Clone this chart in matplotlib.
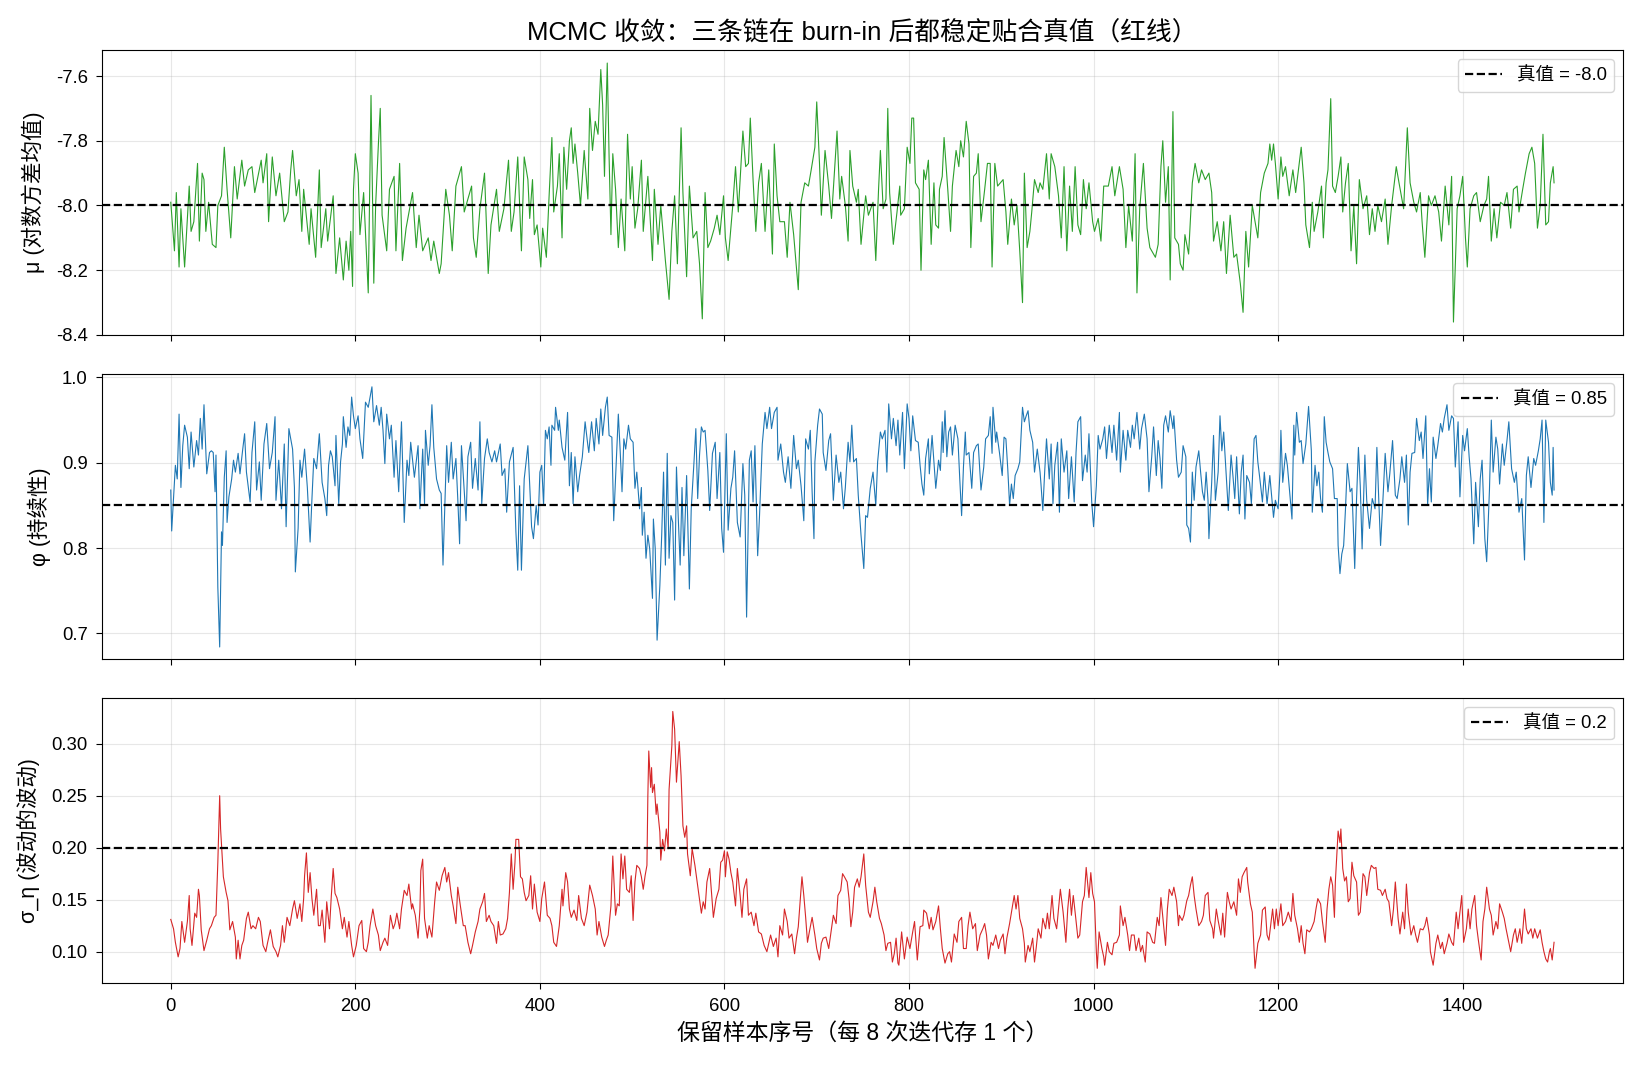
"""
MCMC 轨迹图：三个参数的保留样本与真值对比
"""

import matplotlib
matplotlib.use('Agg')
import matplotlib.pyplot as plt

plt.rcParams['font.family'] = ['Liberation Sans', 'Noto Sans CJK SC']
plt.rcParams['axes.unicode_minus'] = False

# ============================================================================
# DATOS (índice de muestra, valor)
# ============================================================================

mu_trace = [
    (0, -7.99), (4, -8.14), (6, -7.96), (9, -8.19), (11, -8.01), (15, -8.19), (20, -7.94), (22, -8.08),
    (25, -8.05), (29, -7.87), (31, -8.11), (34, -7.90), (36, -7.92), (38, -8.08), (41, -7.99), (45, -8.12),
    (49, -8.13), (51, -8.00), (55, -7.97), (58, -7.82), (61, -7.95), (65, -8.10), (69, -7.88), (72, -7.98),
    (77, -7.86), (80, -7.94), (84, -7.89), (88, -7.88), (91, -7.96), (98, -7.86), (100, -7.93), (104, -7.84),
    (106, -8.05), (110, -7.85), (114, -7.97), (118, -7.90), (123, -8.05), (127, -8.02), (130, -7.89), (132, -7.83),
    (136, -7.97), (139, -7.92), (142, -8.08), (144, -7.95), (150, -8.12), (152, -8.01), (157, -8.16), (161, -7.89),
    (163, -8.13), (168, -8.01), (170, -8.11), (176, -7.97), (179, -8.21), (183, -8.10), (187, -8.23), (190, -8.11),
    (193, -8.20), (195, -8.08), (197, -8.25), (198, -7.95), (200, -7.84), (203, -7.90), (205, -8.09), (209, -7.96),
    (214, -8.27), (217, -7.66), (220, -8.24), (222, -8.00), (225, -7.81), (227, -7.70), (229, -8.03), (234, -8.14),
    (237, -7.95), (242, -7.91), (244, -8.14), (248, -7.87), (251, -8.17), (255, -8.07), (262, -7.96), (266, -8.13),
    (269, -8.03), (273, -8.14), (279, -8.10), (282, -8.17), (285, -8.11), (291, -8.21), (293, -8.18), (298, -7.95),
    (302, -8.03), (305, -8.14), (309, -7.94), (315, -7.88), (318, -8.02), (326, -7.94), (328, -8.10), (331, -8.16),
    (335, -8.01), (340, -7.90), (344, -8.21), (347, -8.06), (353, -7.95), (356, -8.08), (361, -8.01), (366, -7.86),
    (369, -8.08), (372, -8.02), (376, -7.85), (380, -8.14), (383, -7.85), (387, -7.92),
    (389, -8.04), (392, -7.92), (394, -8.09), (397, -8.06), (401, -8.19), (403, -8.07), (407, -8.16), (410, -7.97),
    (413, -7.79), (415, -8.02), (419, -7.94), (421, -7.84), (424, -8.10), (426, -7.82), (429, -7.95), (432, -7.80),
    (434, -7.76), (436, -7.87), (438, -7.81), (441, -7.90), (444, -8.00), (448, -7.83), (452, -7.98), (454, -7.70),
    (457, -7.83), (460, -7.74), (463, -7.78), (466, -7.58), (468, -7.69), (470, -7.91), (473, -7.56), (475, -7.85),
    (477, -8.09), (479, -7.84), (482, -7.95), (485, -8.13), (488, -7.98), (492, -8.14), (495, -7.78), (498, -7.98),
    (500, -7.88), (503, -8.07), (506, -8.01), (510, -7.86), (512, -8.08), (517, -7.91), (522, -8.17), (524, -7.95),
    (528, -8.12), (531, -8.00), (536, -8.17), (540, -8.29), (543, -8.08), (546, -7.97), (549, -8.18), (553, -7.76),
    (555, -7.96), (559, -8.22), (562, -7.94), (566, -8.10), (570, -8.08), (573, -8.18), (576, -8.35), (579, -7.96),
    (582, -8.13), (585, -8.11), (589, -8.07), (592, -8.03), (595, -8.09), (599, -7.97), (601, -8.10), (604, -8.17),
    (609, -8.00), (612, -7.88), (615, -8.02), (620, -7.77), (623, -7.88), (626, -7.87), (628, -7.73), (631, -7.92),
    (634, -8.08), (637, -7.93), (640, -7.87), (644, -8.08), (648, -7.89), (652, -8.15), (654, -7.81), (657, -7.97),
    (660, -8.05), (665, -8.05), (668, -8.16), (671, -7.99), (675, -8.09), (680, -8.26), (683, -7.99), (687, -7.93),
    (691, -7.94), (694, -7.89), (698, -7.82), (700, -7.68), (703, -7.87), (705, -8.03), (709, -7.83), (713, -7.94),
    (716, -8.04), (722, -7.77), (725, -7.98), (727, -7.91), (731, -8.00), (734, -8.11), (736, -7.83), (739, -7.94),
    (743, -7.99), (745, -7.95), (748, -8.12), (753, -7.97), (756, -8.03), (761, -7.99), (764, -8.17), (767, -7.95),
    (769, -7.83), (772, -8.01), (775, -7.98), (777, -7.70), (779, -7.96), (783, -8.12), (787, -8.02), (790, -7.94),
    (791, -8.03), (795, -8.01), (798, -7.82), (801, -7.87), (803, -7.73), (805, -7.73), (807, -7.93), (811, -7.95),
    (813, -8.20), (816, -7.89), (818, -7.92), (821, -7.86), (824, -8.12), (827, -7.93), (829, -8.06), (832, -8.07),
    (833, -7.95), (836, -7.91), (838, -7.79), (842, -7.95), (845, -8.08), (847, -7.94), (851, -7.83), (854, -7.88),
    (856, -7.80), (859, -7.85), (862, -7.74), (865, -7.81), (867, -8.13), (870, -7.91), (873, -7.90), (875, -7.84),
    (878, -8.05), (882, -7.95), (885, -7.87), (888, -7.87), (890, -8.19), (893, -7.87), (896, -7.94), (902, -7.92),
    (905, -8.02), (907, -8.12), (911, -7.98), (914, -8.06), (917, -8.00), (920, -8.14), (923, -8.30), (925, -7.90),
    (928, -8.13), (931, -8.08), (933, -8.02), (936, -7.92), (940, -7.96), (942, -7.93), (945, -7.95), (949, -7.84),
    (952, -7.98), (954, -7.84), (958, -7.88), (962, -7.97), (965, -8.10), (968, -7.88), (971, -8.14), (974, -7.94),
    (977, -8.08), (980, -7.88), (983, -8.06), (986, -8.09), (989, -7.92), (992, -8.01), (995, -7.93), (999, -8.05),
    (1001, -8.08), (1005, -8.04), (1008, -8.11), (1011, -7.94), (1016, -7.94), (1020, -7.88), (1023, -7.97),
    (1028, -7.88), (1032, -7.95), (1035, -8.13), (1038, -8.00), (1042, -8.11), (1045, -7.84), (1047, -8.27),
    (1050, -8.01), (1054, -7.87), (1058, -8.07), (1061, -8.13), (1067, -8.16), (1070, -8.12), (1073, -7.88),
    (1075, -7.80), (1078, -7.99), (1081, -7.88), (1083, -8.23), (1086, -7.71), (1088, -8.10), (1092, -8.12),
    (1094, -8.18), (1097, -8.20), (1099, -8.09), (1103, -8.15), (1107, -7.93), (1110, -7.87), (1114, -7.93),
    (1117, -7.89), (1121, -7.92), (1125, -7.90), (1128, -7.96), (1130, -8.11), (1134, -8.05), (1138, -8.14),
    (1141, -8.05), (1144, -8.21), (1148, -8.03), (1152, -8.16), (1155, -8.15), (1159, -8.24), (1162, -8.33),
    (1165, -8.08), (1168, -8.19), (1172, -8.00), (1175, -8.05), (1178, -8.10), (1181, -7.96), (1185, -7.90),
    (1189, -7.87), (1191, -7.81),
    (1193, -7.86), (1195, -7.81), (1197, -7.87), (1200, -7.98), (1203, -7.85), (1205, -7.91), (1208, -7.88),
    (1212, -7.97), (1216, -7.89), (1219, -7.96), (1222, -7.89), (1225, -7.82), (1228, -7.93), (1230, -8.06),
    (1234, -8.13), (1237, -7.99), (1239, -8.08), (1243, -8.02), (1247, -7.94), (1249, -8.10), (1252, -7.93),
    (1254, -7.89), (1257, -7.67), (1259, -7.94), (1262, -7.96), (1265, -7.91), (1268, -7.85), (1270, -8.02),
    (1273, -7.93), (1276, -7.87), (1279, -8.14), (1282, -8.00), (1285, -8.18), (1288, -7.92), (1292, -8.01),
    (1296, -7.97), (1299, -8.09), (1302, -8.01), (1305, -8.08), (1308, -8.00), (1312, -8.05), (1316, -7.98),
    (1319, -8.12), (1323, -8.00), (1328, -7.88), (1331, -7.93), (1336, -8.01), (1340, -7.76), (1343, -7.93),
    (1347, -7.99), (1350, -8.02), (1354, -7.96), (1356, -8.05), (1359, -8.16), (1363, -7.97), (1366, -8.00),
    (1370, -7.97), (1374, -8.02), (1377, -8.11), (1381, -7.94), (1385, -8.06), (1388, -7.91), (1390, -8.36),
    (1394, -8.01), (1397, -7.97), (1400, -7.91), (1403, -8.10), (1405, -8.19), (1408, -8.01), (1412, -7.97),
    (1415, -7.96), (1419, -8.05), (1423, -8.00), (1426, -7.98), (1428, -7.91), (1431, -8.11), (1434, -8.01),
    (1437, -8.10), (1441, -7.99), (1445, -8.00), (1448, -7.96), (1452, -8.07), (1455, -7.95), (1459, -7.94),
    (1461, -8.02), (1465, -7.95), (1468, -7.90), (1472, -7.84), (1475, -7.82), (1478, -7.87), (1481, -8.07),
    (1484, -8.00), (1487, -7.78), (1490, -8.06), (1493, -8.05), (1495, -7.93), (1498, -7.88), (1499, -7.93),
]

phi_trace = [
    (0, 0.868), (1, 0.820), (4, 0.877), (5, 0.897), (7, 0.881), (9, 0.957), (11, 0.871), (13, 0.920),
    (15, 0.944), (18, 0.930), (20, 0.893), (22, 0.936), (25, 0.895), (28, 0.926), (30, 0.909), (32, 0.952),
    (34, 0.916), (36, 0.968), (39, 0.887), (42, 0.912), (44, 0.914), (46, 0.912), (48, 0.866), (49, 0.909),
    (51, 0.754), (53, 0.684), (55, 0.819), (56, 0.803), (58, 0.883), (60, 0.914), (61, 0.830), (63, 0.860),
    (66, 0.881), (68, 0.903), (70, 0.889), (73, 0.911), (75, 0.887), (78, 0.916), (80, 0.934), (82, 0.889),
    (86, 0.854), (88, 0.912), (91, 0.948), (93, 0.868), (96, 0.901), (98, 0.856), (101, 0.922), (104, 0.946),
    (107, 0.893), (110, 0.912), (113, 0.954), (114, 0.856), (117, 0.903), (120, 0.846), (123, 0.922), (125, 0.825),
    (128, 0.940), (132, 0.916), (134, 0.871), (135, 0.772), (138, 0.823), (140, 0.903), (142, 0.883), (145, 0.916),
    (148, 0.871), (151, 0.807), (153, 0.858), (155, 0.905), (158, 0.893), (161, 0.934), (164, 0.877), (167, 0.858),
    (169, 0.838), (171, 0.897), (173, 0.914), (175, 0.907), (178, 0.873), (179, 0.932), (182, 0.852), (184, 0.901),
    (186, 0.922), (187, 0.954), (190, 0.918), (192, 0.942), (194, 0.932), (196, 0.977), (198, 0.955), (200, 0.940),
    (203, 0.955), (205, 0.928), (208, 0.905), (211, 0.971), (214, 0.965), (216, 0.977), (218, 0.989), (220, 0.948),
    (223, 0.967), (226, 0.944), (228, 0.965), (230, 0.938), (232, 0.899), (234, 0.957), (237, 0.928), (239, 0.944),
    (242, 0.883), (244, 0.926), (247, 0.866), (250, 0.948), (253, 0.830), (256, 0.903), (258, 0.885), (260, 0.924),
    (264, 0.883), (268, 0.920), (270, 0.846), (273, 0.916), (275, 0.852), (276, 0.938), (279, 0.897), (281, 0.920),
    (283, 0.968), (285, 0.918), (288, 0.881), (291, 0.868), (293, 0.864), (295, 0.780), (297, 0.850), (299, 0.920),
    (301, 0.877), (304, 0.924), (306, 0.881), (309, 0.905), (311, 0.858), (313, 0.805), (315, 0.920), (317, 0.885),
    (320, 0.832), (322, 0.907), (325, 0.924), (327, 0.870), (330, 0.905), (333, 0.868), (335, 0.948), (337, 0.852),
    (340, 0.905), (343, 0.928), (345, 0.912), (348, 0.901), (351, 0.914), (353, 0.901), (357, 0.922), (359, 0.885),
    (362, 0.893), (364, 0.842), (367, 0.901), (371, 0.918), (374, 0.819), (376, 0.774), (378, 0.873), (380, 0.774),
    (383, 0.881), (387, 0.920),
    (388, 0.897), (391, 0.825), (393, 0.811), (396, 0.850), (398, 0.827), (400, 0.889), (402, 0.897), (404, 0.850),
    (406, 0.938), (408, 0.928), (410, 0.942), (412, 0.897), (413, 0.944), (416, 0.938), (417, 0.965), (420, 0.938),
    (421, 0.950), (424, 0.918), (427, 0.903), (430, 0.959), (432, 0.873), (434, 0.912), (436, 0.852), (438, 0.907),
    (441, 0.866), (443, 0.885), (446, 0.907), (449, 0.948), (452, 0.920), (453, 0.912), (456, 0.948), (459, 0.914),
    (461, 0.952), (464, 0.922), (466, 0.963), (468, 0.932), (471, 0.965), (473, 0.977), (475, 0.932), (478, 0.930),
    (480, 0.832), (482, 0.881), (485, 0.957), (487, 0.914), (489, 0.866), (491, 0.928), (493, 0.916), (496, 0.944),
    (498, 0.928), (501, 0.924), (503, 0.870), (505, 0.889), (508, 0.846), (510, 0.871), (511, 0.815), (513, 0.842),
    (515, 0.788), (517, 0.815), (519, 0.799), (522, 0.741), (523, 0.834), (525, 0.799), (527, 0.692), (530, 0.756),
    (532, 0.815), (534, 0.889), (536, 0.780), (538, 0.911), (540, 0.788), (542, 0.838), (544, 0.830), (546, 0.739),
    (548, 0.895), (550, 0.834), (552, 0.780), (554, 0.871), (556, 0.791), (559, 0.885), (562, 0.752), (564, 0.846),
    (567, 0.901), (569, 0.940), (571, 0.858), (573, 0.909), (575, 0.942), (577, 0.936), (579, 0.938), (582, 0.891),
    (584, 0.844), (587, 0.911), (590, 0.924), (592, 0.858), (595, 0.912), (597, 0.823), (599, 0.795), (602, 0.934),
    (604, 0.821), (607, 0.870), (609, 0.883), (611, 0.914), (614, 0.830), (617, 0.813), (620, 0.899), (622, 0.862),
    (624, 0.719), (627, 0.903), (629, 0.914), (631, 0.854), (633, 0.920), (636, 0.791), (638, 0.838), (641, 0.922),
    (644, 0.959), (646, 0.940), (649, 0.965), (651, 0.940), (654, 0.959), (657, 0.965), (658, 0.903), (661, 0.922),
    (664, 0.889), (666, 0.877), (669, 0.907), (672, 0.870), (675, 0.932), (678, 0.893), (680, 0.903), (683, 0.873),
    (686, 0.832), (688, 0.928), (691, 0.916), (693, 0.938), (695, 0.866), (697, 0.811), (698, 0.901), (701, 0.944),
    (703, 0.963), (706, 0.957), (707, 0.912), (710, 0.891), (713, 0.926), (715, 0.934), (718, 0.856), (721, 0.909),
    (724, 0.877), (726, 0.889), (729, 0.846), (731, 0.871), (734, 0.924), (736, 0.901), (738, 0.944), (740, 0.901),
    (743, 0.905), (745, 0.862), (748, 0.815), (751, 0.776), (753, 0.838), (755, 0.836), (758, 0.870), (761, 0.889),
    (764, 0.850), (766, 0.901), (769, 0.936), (771, 0.928), (774, 0.938), (776, 0.889), (778, 0.969), (781, 0.928),
    (783, 0.952), (786, 0.920), (788, 0.950), (790, 0.909),
    (793, 0.959), (795, 0.893), (798, 0.969), (800, 0.952), (802, 0.914), (804, 0.955), (807, 0.926), (810, 0.924),
    (812, 0.897), (814, 0.875), (816, 0.862), (818, 0.905), (821, 0.928), (822, 0.887), (825, 0.932), (829, 0.870),
    (832, 0.903), (834, 0.891), (836, 0.948), (837, 0.912), (839, 0.961), (841, 0.907), (843, 0.936), (845, 0.942),
    (847, 0.909), (850, 0.944), (853, 0.928), (855, 0.881), (857, 0.838), (859, 0.895), (861, 0.936), (862, 0.909),
    (865, 0.912), (868, 0.870), (870, 0.912), (873, 0.920), (875, 0.922), (878, 0.868), (881, 0.895), (883, 0.928),
    (886, 0.932), (888, 0.954), (890, 0.911), (891, 0.965), (894, 0.924), (895, 0.936), (898, 0.912), (901, 0.885),
    (903, 0.930), (905, 0.928), (907, 0.893), (909, 0.850), (911, 0.875), (913, 0.858), (915, 0.885), (918, 0.893),
    (920, 0.901), (923, 0.965), (925, 0.948), (927, 0.955), (929, 0.961), (931, 0.938), (934, 0.924), (936, 0.889),
    (939, 0.916), (942, 0.889), (943, 0.875), (945, 0.844), (947, 0.889), (949, 0.928), (952, 0.881), (954, 0.922),
    (956, 0.852), (958, 0.897), (961, 0.924), (963, 0.842), (965, 0.928), (968, 0.889), (971, 0.914), (973, 0.858),
    (976, 0.907), (979, 0.854), (981, 0.912), (983, 0.948), (986, 0.954), (988, 0.879), (991, 0.909), (993, 0.889),
    (995, 0.934), (998, 0.854), (1000, 0.825), (1003, 0.873), (1005, 0.932), (1007, 0.916), (1010, 0.928),
    (1012, 0.942), (1014, 0.905), (1017, 0.944), (1020, 0.912), (1022, 0.944), (1025, 0.903), (1028, 0.959),
    (1029, 0.889), (1032, 0.938), (1035, 0.903), (1037, 0.938), (1040, 0.918), (1042, 0.944), (1044, 0.928),
    (1047, 0.959), (1050, 0.916), (1052, 0.940), (1055, 0.957), (1058, 0.928), (1060, 0.866), (1063, 0.907),
    (1065, 0.942), (1068, 0.885), (1070, 0.926), (1072, 0.905), (1074, 0.870), (1076, 0.944), (1078, 0.955),
    (1081, 0.936), (1083, 0.961), (1086, 0.940), (1087, 0.955), (1090, 0.903), (1092, 0.883), (1095, 0.889),
    (1097, 0.920), (1100, 0.907), (1101, 0.827), (1103, 0.823), (1105, 0.807), (1107, 0.889), (1109, 0.856),
    (1111, 0.895), (1114, 0.914), (1116, 0.889), (1118, 0.866), (1120, 0.856), (1122, 0.889), (1124, 0.856),
    (1125, 0.811), (1128, 0.877), (1130, 0.932), (1132, 0.856), (1135, 0.889), (1137, 0.955), (1139, 0.914),
    (1141, 0.936), (1143, 0.899), (1146, 0.844), (1149, 0.909), (1151, 0.885), (1153, 0.858), (1155, 0.907),
    (1158, 0.840), (1160, 0.889), (1162, 0.909), (1164, 0.834), (1166, 0.885), (1169, 0.877), (1171, 0.852),
    (1174, 0.928), (1176, 0.932), (1178, 0.901), (1180, 0.883), (1183, 0.854), (1185, 0.889), (1188, 0.852),
    (1191, 0.885),
    (1192, 0.873), (1195, 0.836), (1197, 0.856), (1200, 0.846), (1202, 0.889), (1203, 0.938), (1205, 0.877),
    (1208, 0.911), (1210, 0.897), (1213, 0.860), (1215, 0.834), (1217, 0.944), (1218, 0.909), (1220, 0.959),
    (1223, 0.924), (1225, 0.926), (1227, 0.899), (1230, 0.922), (1233, 0.966), (1236, 0.914), (1237, 0.842),
    (1240, 0.897), (1242, 0.873), (1244, 0.889), (1246, 0.858), (1248, 0.842), (1250, 0.954), (1252, 0.924),
    (1254, 0.912), (1256, 0.901), (1259, 0.893), (1261, 0.858), (1264, 0.858), (1265, 0.803), (1267, 0.770),
    (1269, 0.793), (1271, 0.803), (1273, 0.846), (1275, 0.899), (1278, 0.866), (1280, 0.870), (1283, 0.776),
    (1285, 0.858), (1287, 0.918), (1289, 0.873), (1291, 0.799), (1294, 0.909), (1296, 0.856), (1299, 0.823),
    (1302, 0.858), (1305, 0.846), (1307, 0.918), (1309, 0.858), (1311, 0.803), (1314, 0.866), (1316, 0.911),
    (1319, 0.866), (1321, 0.887), (1324, 0.926), (1327, 0.862), (1329, 0.858), (1332, 0.881), (1334, 0.907),
    (1337, 0.877), (1339, 0.909), (1341, 0.827), (1343, 0.889), (1345, 0.911), (1348, 0.912), (1350, 0.952),
    (1353, 0.926), (1355, 0.936), (1357, 0.905), (1360, 0.955), (1362, 0.850), (1364, 0.893), (1366, 0.854),
    (1368, 0.930), (1371, 0.905), (1373, 0.920), (1376, 0.946), (1378, 0.936), (1380, 0.952), (1383, 0.968),
    (1385, 0.938), (1388, 0.955), (1390, 0.952), (1392, 0.895), (1395, 0.948), (1397, 0.860), (1400, 0.932),
    (1402, 0.914), (1405, 0.940), (1407, 0.907), (1409, 0.881), (1412, 0.805), (1414, 0.877), (1417, 0.825),
    (1419, 0.881), (1421, 0.903), (1424, 0.811), (1426, 0.784), (1429, 0.868), (1431, 0.950), (1433, 0.889),
    (1436, 0.930), (1438, 0.916), (1440, 0.875), (1443, 0.922), (1445, 0.897), (1448, 0.926), (1450, 0.948),
    (1453, 0.893), (1456, 0.877), (1458, 0.889), (1461, 0.842), (1464, 0.858), (1467, 0.786), (1469, 0.885),
    (1471, 0.907), (1474, 0.871), (1477, 0.905), (1479, 0.897), (1482, 0.914), (1484, 0.928), (1486, 0.950),
    (1488, 0.830), (1490, 0.950), (1493, 0.924), (1495, 0.877), (1497, 0.862), (1498, 0.918), (1499, 0.868),
]

sigma_trace = [
    (0, 0.131), (3, 0.122), (5, 0.109), (8, 0.095), (10, 0.103), (12, 0.129), (15, 0.109), (18, 0.129),
    (20, 0.154), (21, 0.122), (23, 0.106), (26, 0.137), (28, 0.133), (30, 0.160), (31, 0.154), (33, 0.121),
    (36, 0.101), (39, 0.111), (42, 0.122), (44, 0.125), (47, 0.133), (49, 0.135), (51, 0.186), (53, 0.250),
    (54, 0.218), (56, 0.188), (57, 0.172), (60, 0.157), (62, 0.149), (64, 0.121), (67, 0.129), (70, 0.114),
    (71, 0.093), (73, 0.111), (75, 0.093), (77, 0.106), (79, 0.111), (82, 0.132), (84, 0.138), (87, 0.122),
    (89, 0.125), (92, 0.122), (95, 0.133), (97, 0.129), (100, 0.106), (103, 0.100), (105, 0.109), (108, 0.121),
    (111, 0.105), (114, 0.100), (116, 0.095), (119, 0.106), (121, 0.125), (123, 0.109), (126, 0.133), (129, 0.125),
    (132, 0.141), (134, 0.149), (137, 0.132), (140, 0.146), (142, 0.129), (144, 0.151), (145, 0.173), (147, 0.195),
    (149, 0.157), (151, 0.176), (153, 0.151), (155, 0.135), (158, 0.160), (160, 0.125), (162, 0.125), (164, 0.140),
    (167, 0.109), (169, 0.148), (172, 0.122), (174, 0.154), (176, 0.180), (178, 0.156), (180, 0.152), (183, 0.141),
    (186, 0.122), (188, 0.133), (191, 0.114), (193, 0.129), (196, 0.106), (198, 0.095), (201, 0.106), (204, 0.125),
    (207, 0.130), (209, 0.103), (212, 0.100), (214, 0.109), (216, 0.125), (219, 0.141), (222, 0.125), (225, 0.116),
    (227, 0.101), (230, 0.109), (232, 0.113), (235, 0.106), (238, 0.135), (241, 0.122), (243, 0.127), (245, 0.137),
    (248, 0.122), (250, 0.141), (253, 0.159), (256, 0.154), (258, 0.165), (261, 0.141), (262, 0.146), (265, 0.135),
    (268, 0.113), (270, 0.141), (271, 0.178), (273, 0.189), (275, 0.132), (278, 0.113), (280, 0.125), (283, 0.114),
    (286, 0.148), (288, 0.167), (291, 0.159), (294, 0.173), (297, 0.181), (299, 0.167), (301, 0.176), (304, 0.154),
    (306, 0.144), (309, 0.127), (311, 0.162), (314, 0.143), (317, 0.125), (319, 0.125), (322, 0.109), (325, 0.098),
    (327, 0.106), (330, 0.119), (333, 0.129), (335, 0.141), (338, 0.148), (340, 0.156), (342, 0.129), (345, 0.135),
    (347, 0.129), (350, 0.125), (353, 0.108), (355, 0.129), (357, 0.116), (360, 0.117), (363, 0.122), (365, 0.132),
    (367, 0.157), (369, 0.194), (371, 0.160), (373, 0.186), (374, 0.208), (377, 0.208), (379, 0.172), (381, 0.170),
    (383, 0.157), (385, 0.149), (388, 0.154),
    (390, 0.173), (392, 0.141), (394, 0.165), (397, 0.138), (400, 0.129), (402, 0.151), (405, 0.167), (408, 0.135),
    (411, 0.132), (413, 0.125), (415, 0.109), (418, 0.105), (421, 0.125), (424, 0.160), (425, 0.144), (428, 0.176),
    (430, 0.167), (432, 0.141), (434, 0.133), (437, 0.140), (440, 0.130), (442, 0.154), (445, 0.132), (448, 0.125),
    (451, 0.138), (454, 0.164), (457, 0.154), (460, 0.141), (462, 0.116), (464, 0.129), (467, 0.114), (470, 0.105),
    (472, 0.111), (474, 0.116), (477, 0.144), (479, 0.192), (482, 0.135), (484, 0.146), (486, 0.144), (488, 0.194),
    (490, 0.170), (492, 0.192), (494, 0.160), (497, 0.157), (499, 0.173), (501, 0.130), (503, 0.167), (505, 0.183),
    (508, 0.180), (510, 0.172), (512, 0.160), (514, 0.173), (516, 0.183), (517, 0.250), (518, 0.293), (520, 0.258),
    (521, 0.277), (522, 0.253), (524, 0.261), (526, 0.232), (527, 0.242), (530, 0.215), (531, 0.188), (533, 0.208),
    (535, 0.197), (537, 0.218), (539, 0.199), (540, 0.256), (543, 0.298), (544, 0.331), (546, 0.314), (548, 0.263),
    (550, 0.288), (551, 0.302), (553, 0.269), (555, 0.221), (557, 0.210), (559, 0.221), (560, 0.194), (563, 0.173),
    (565, 0.199), (568, 0.183), (570, 0.170), (572, 0.157), (575, 0.137), (577, 0.148), (579, 0.141), (581, 0.167),
    (584, 0.180), (586, 0.157), (588, 0.133), (591, 0.151), (594, 0.160), (596, 0.186), (598, 0.188), (600, 0.197),
    (601, 0.172), (603, 0.196), (605, 0.189), (607, 0.176), (609, 0.167), (612, 0.144), (614, 0.180), (617, 0.154),
    (619, 0.133), (621, 0.160), (624, 0.170), (626, 0.135), (629, 0.138), (632, 0.125), (634, 0.137), (637, 0.119),
    (640, 0.117), (643, 0.106), (646, 0.100), (648, 0.108), (650, 0.116), (653, 0.105), (656, 0.113), (658, 0.095),
    (660, 0.125), (663, 0.116), (665, 0.141), (668, 0.129), (670, 0.113), (673, 0.117), (676, 0.098), (678, 0.113),
    (680, 0.124), (682, 0.148), (684, 0.172), (686, 0.154), (688, 0.133), (690, 0.109), (692, 0.119), (695, 0.133),
    (698, 0.116), (700, 0.103), (703, 0.092), (705, 0.108), (707, 0.113), (710, 0.114), (713, 0.103), (715, 0.116),
    (718, 0.135), (721, 0.127), (723, 0.154), (726, 0.159), (728, 0.175), (730, 0.172), (733, 0.167), (735, 0.151),
    (737, 0.124), (739, 0.138), (741, 0.162), (744, 0.170), (746, 0.162), (748, 0.172), (751, 0.194), (753, 0.164),
    (756, 0.138), (758, 0.133), (761, 0.148), (763, 0.162), (765, 0.148), (768, 0.132), (770, 0.127), (773, 0.116),
    (775, 0.101), (777, 0.108), (780, 0.109), (782, 0.090), (784, 0.098), (786, 0.113), (788, 0.089),
    (789, 0.087), (792, 0.119), (795, 0.093), (798, 0.114), (801, 0.103), (804, 0.119), (806, 0.129), (809, 0.092),
    (812, 0.124), (815, 0.125), (816, 0.140), (819, 0.137), (822, 0.122), (824, 0.133), (826, 0.121), (829, 0.129),
    (832, 0.144), (834, 0.122), (836, 0.103), (839, 0.089), (842, 0.098), (844, 0.100), (846, 0.090), (849, 0.117),
    (852, 0.109), (854, 0.129), (857, 0.133), (859, 0.103), (862, 0.103), (864, 0.125), (866, 0.138), (869, 0.122),
    (872, 0.127), (874, 0.101), (877, 0.116), (880, 0.122), (882, 0.127), (884, 0.116), (886, 0.093), (889, 0.109),
    (891, 0.106), (894, 0.116), (897, 0.103), (899, 0.111), (902, 0.117), (904, 0.098), (906, 0.113), (909, 0.127),
    (911, 0.138), (914, 0.154), (916, 0.141), (918, 0.154), (920, 0.132), (923, 0.122), (925, 0.108), (926, 0.090),
    (929, 0.106), (931, 0.100), (934, 0.113), (936, 0.090), (938, 0.105), (940, 0.122), (943, 0.113), (945, 0.132),
    (948, 0.122), (950, 0.137), (952, 0.122), (955, 0.154), (957, 0.132), (960, 0.122), (962, 0.141), (964, 0.160),
    (967, 0.138), (970, 0.109), (972, 0.141), (974, 0.160), (976, 0.135), (978, 0.154), (980, 0.138), (983, 0.113),
    (985, 0.116), (988, 0.148), (990, 0.154), (992, 0.181), (995, 0.152), (997, 0.176), (999, 0.156), (1001, 0.148),
    (1003, 0.100), (1004, 0.084), (1006, 0.119), (1009, 0.103), (1011, 0.095), (1012, 0.087), (1015, 0.109),
    (1017, 0.100), (1020, 0.097), (1022, 0.108), (1025, 0.109), (1028, 0.116), (1029, 0.144), (1032, 0.125),
    (1034, 0.133), (1037, 0.116), (1039, 0.101), (1041, 0.116), (1044, 0.116), (1046, 0.101), (1049, 0.113),
    (1051, 0.100), (1053, 0.106), (1056, 0.090), (1058, 0.119), (1061, 0.117), (1064, 0.109), (1066, 0.108),
    (1069, 0.133), (1071, 0.125), (1073, 0.152), (1076, 0.125), (1078, 0.106), (1080, 0.141), (1082, 0.160),
    (1085, 0.154), (1087, 0.162), (1090, 0.148), (1092, 0.125), (1093, 0.135), (1096, 0.130), (1098, 0.135),
    (1101, 0.149), (1103, 0.154), (1105, 0.164), (1107, 0.172), (1109, 0.154), (1111, 0.141), (1114, 0.125),
    (1117, 0.129), (1119, 0.135), (1121, 0.154), (1124, 0.157), (1126, 0.130), (1129, 0.122), (1130, 0.113),
    (1133, 0.141), (1135, 0.130), (1138, 0.116), (1140, 0.137), (1142, 0.114), (1145, 0.157), (1147, 0.148),
    (1149, 0.141), (1152, 0.148), (1155, 0.135), (1157, 0.170), (1159, 0.157), (1161, 0.172), (1163, 0.176),
    (1166, 0.181), (1167, 0.167), (1170, 0.146), (1172, 0.138), (1174, 0.100), (1175, 0.084), (1178, 0.108),
    (1181, 0.116), (1183, 0.140), (1186, 0.143), (1188, 0.116), (1190, 0.111),
    (1194, 0.141), (1196, 0.122), (1198, 0.141), (1200, 0.125), (1203, 0.146), (1205, 0.125), (1208, 0.129),
    (1211, 0.138), (1214, 0.129), (1216, 0.156), (1218, 0.135), (1221, 0.122), (1223, 0.109), (1225, 0.125),
    (1227, 0.108), (1229, 0.098), (1231, 0.121), (1234, 0.119), (1236, 0.122), (1239, 0.129), (1241, 0.141),
    (1243, 0.151), (1246, 0.146), (1248, 0.129), (1251, 0.109), (1253, 0.141), (1255, 0.160), (1257, 0.172),
    (1259, 0.164), (1261, 0.133), (1262, 0.167), (1264, 0.199), (1265, 0.216), (1267, 0.205), (1268, 0.218),
    (1270, 0.180), (1272, 0.168), (1274, 0.172), (1276, 0.148), (1278, 0.151), (1280, 0.186), (1282, 0.173),
    (1285, 0.167), (1287, 0.135), (1289, 0.138), (1292, 0.175), (1294, 0.172), (1296, 0.154), (1299, 0.176),
    (1301, 0.183), (1304, 0.180), (1306, 0.181), (1308, 0.160), (1311, 0.159), (1313, 0.154), (1316, 0.160),
    (1318, 0.151), (1320, 0.148), (1323, 0.125), (1325, 0.141), (1327, 0.167), (1330, 0.132), (1332, 0.117),
    (1335, 0.138), (1337, 0.122), (1339, 0.165), (1341, 0.138), (1344, 0.116), (1347, 0.125), (1349, 0.116),
    (1351, 0.109), (1354, 0.122), (1357, 0.121), (1359, 0.125), (1361, 0.133), (1364, 0.116), (1365, 0.100),
    (1368, 0.087), (1371, 0.108), (1373, 0.116), (1376, 0.103), (1378, 0.109), (1380, 0.098), (1383, 0.108),
    (1385, 0.117), (1388, 0.109), (1390, 0.106), (1393, 0.138), (1395, 0.122), (1397, 0.138), (1399, 0.154),
    (1401, 0.109), (1404, 0.122), (1406, 0.141), (1408, 0.122), (1410, 0.141), (1413, 0.154), (1415, 0.125),
    (1417, 0.111), (1420, 0.092), (1422, 0.129), (1424, 0.141), (1426, 0.162), (1429, 0.141), (1431, 0.135),
    (1433, 0.116), (1436, 0.129), (1438, 0.122), (1440, 0.146), (1443, 0.138), (1445, 0.132), (1447, 0.122),
    (1450, 0.109), (1452, 0.100), (1455, 0.116), (1457, 0.122), (1459, 0.109), (1462, 0.122), (1464, 0.108),
    (1467, 0.141), (1469, 0.122), (1471, 0.117), (1474, 0.122), (1476, 0.113), (1478, 0.122), (1481, 0.113),
    (1484, 0.121), (1486, 0.109), (1488, 0.100), (1490, 0.093), (1492, 0.090), (1494, 0.100), (1495, 0.103),
    (1497, 0.092), (1499, 0.109),
]

true_values = [-8.0, 0.85, 0.2]
true_labels = ['真值 = -8.0', '真值 = 0.85', '真值 = 0.2']
y_labels = ['μ (对数方差均值)', 'φ (持续性)', 'σ_η (波动的波动)']
colors = ['#2ca02c', '#1f77b4', '#d62728']
y_limits = [(-8.40, -7.52), (0.670, 1.004), (0.070, 0.344)]
y_ticks = [[-8.4, -8.2, -8.0, -7.8, -7.6], [0.7, 0.8, 0.9, 1.0], [0.10, 0.15, 0.20, 0.25, 0.30]]
x_ticks = [0, 200, 400, 600, 800, 1000, 1200, 1400]


# ============================================================================
# GRÁFICO
# ============================================================================

def main():
    fig, axes = plt.subplots(3, 1, figsize=(16.38, 10.66), dpi=100, sharex=True)
    fig.subplots_adjust(left=0.062, right=0.991, top=0.953, bottom=0.078, hspace=0.137)

    traces = [mu_trace, phi_trace, sigma_trace]
    for i, ax in enumerate(axes):
        pts = sorted(traces[i])
        xs = [p[0] for p in pts]
        ys = [p[1] for p in pts]
        ax.plot(xs, ys, color=colors[i], linewidth=0.8)
        ax.axhline(true_values[i], color='black', linestyle='--', linewidth=1.6, label=true_labels[i])
        ax.set_ylim(*y_limits[i])
        ax.set_yticks(y_ticks[i])
        if i == 2:
            ax.set_yticklabels([f'{v:.2f}' for v in y_ticks[i]])
        ax.set_ylabel(y_labels[i], fontsize=15.5, labelpad=8)
        ax.tick_params(axis='both', labelsize=13.3, length=4)
        ax.tick_params(axis='y', pad=6)
        ax.tick_params(axis='x', pad=7)
        ax.grid(alpha=0.3)
        ax.legend(loc='upper right', fontsize=13.3)

    axes[2].set_xlim(-75, 1574)
    axes[2].set_xticks(x_ticks)
    axes[2].set_xlabel('保留样本序号（每 8 次迭代存 1 个）', fontsize=16.5, labelpad=5)
    axes[0].set_title('MCMC 收敛：三条链在 burn-in 后都稳定贴合真值（红线）', fontsize=18.5, pad=7)

    plt.savefig('out.png', dpi=100)
    plt.close()


if __name__ == '__main__':
    main()
